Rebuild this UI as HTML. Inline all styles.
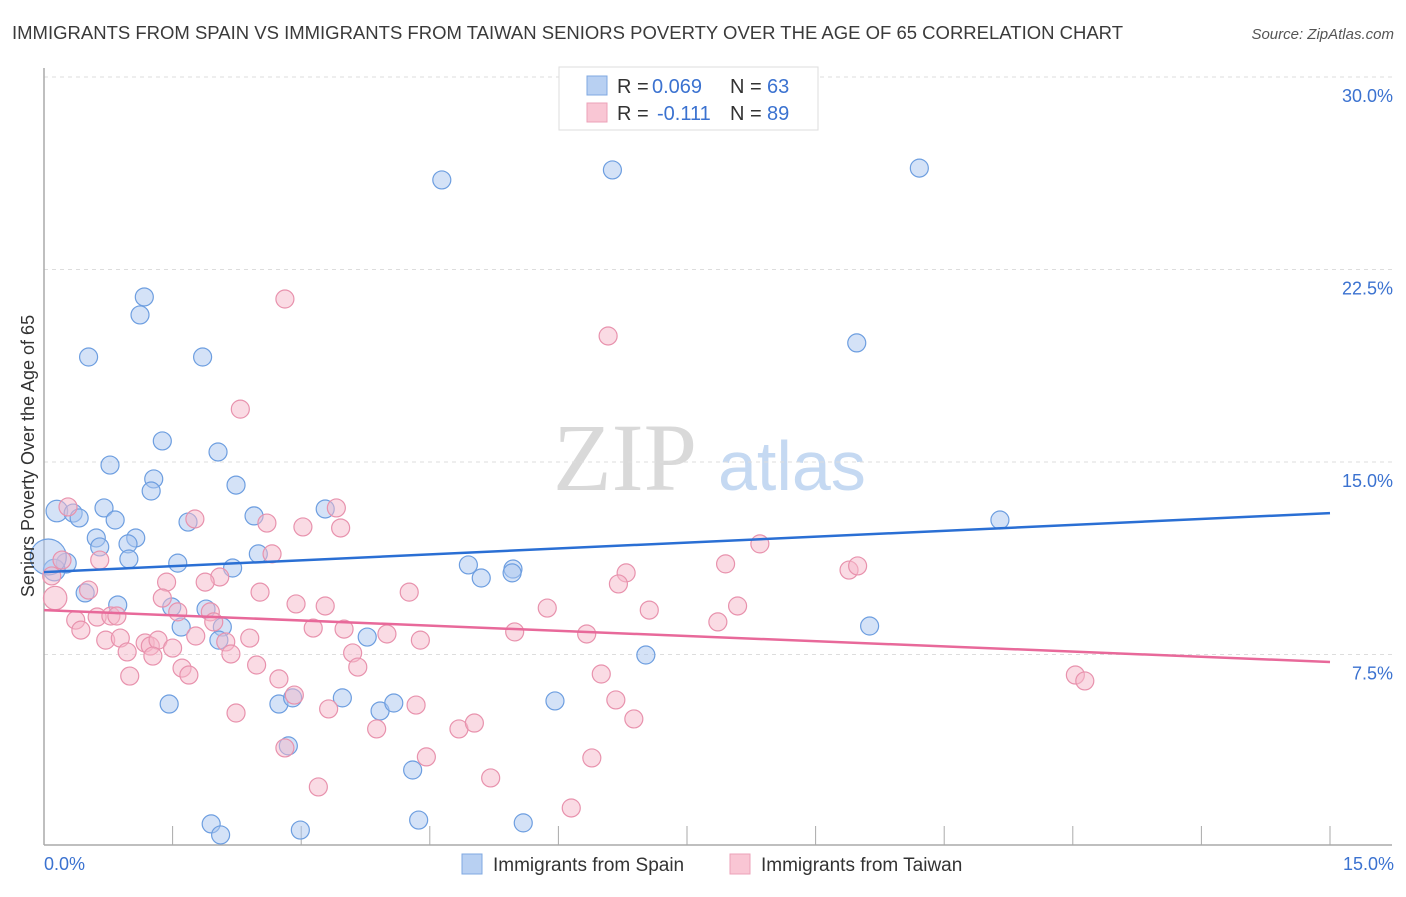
<!DOCTYPE html>
<html><head><meta charset="utf-8"><style>
body{margin:0;background:#fff;font-family:"Liberation Sans",sans-serif;}
svg text{font-family:"Liberation Sans",sans-serif;}
</style></head><body>
<svg id="chart" width="1406" height="892" xmlns="http://www.w3.org/2000/svg">
<text x="12" y="39" font-size="18" fill="#3a3a3a" textLength="1111" lengthAdjust="spacingAndGlyphs">IMMIGRANTS FROM SPAIN VS IMMIGRANTS FROM TAIWAN SENIORS POVERTY OVER THE AGE OF 65 CORRELATION CHART</text>
<text x="1394" y="39" font-size="15" fill="#555" text-anchor="end" font-style="italic">Source: ZipAtlas.com</text>
<g>
<text x="553" y="490" font-size="96" fill="#d9d9d9" font-family="Liberation Serif" style="font-family:'Liberation Serif',serif">ZIP</text>
<text x="718" y="490" font-size="70" fill="#c5d9f2">atlas</text>
</g>
<g id="grid"></g>
<g id="axes"></g>
<g id="pts"></g>
<g id="trend"></g>
<text transform="translate(34,456) rotate(-90)" font-size="18" fill="#333" text-anchor="middle">Seniors Poverty Over the Age of 65</text>
<g>
<rect x="559" y="67" width="259" height="63" fill="#fff" stroke="#ddd"/>
<rect x="587" y="76" width="20" height="19" fill="#b8d0f2" stroke="#7fa8e2"/>
<rect x="587" y="103" width="20" height="19" fill="#f9c6d4" stroke="#eca2b8"/>
<text x="617" y="93" font-size="20" fill="#333">R =</text>
<text x="652" y="93" font-size="20" fill="#3b72d0">0.069</text>
<text x="730" y="93" font-size="20" fill="#333">N =</text>
<text x="767" y="93" font-size="20" fill="#3b72d0">63</text>
<text x="617" y="120" font-size="20" fill="#333">R =</text>
<text x="657" y="120" font-size="20" fill="#3b72d0">-0.111</text>
<text x="730" y="120" font-size="20" fill="#333">N =</text>
<text x="767" y="120" font-size="20" fill="#3b72d0">89</text>
</g>
<g>
<rect x="462" y="854" width="20" height="20" fill="#b8d0f2" stroke="#7fa8e2"/>
<text x="493" y="871" font-size="19" fill="#333">Immigrants from Spain</text>
<rect x="730" y="854" width="20" height="20" fill="#f9c6d4" stroke="#eca2b8"/>
<text x="761" y="871" font-size="19" fill="#333">Immigrants from Taiwan</text>
</g>
</svg>
<script>
const yTicks=[7.5,15,22.5,30];
const yTickLabels=["7.5%","15.0%","22.5%","30.0%"];
const xTickLabels=["0.0%","15.0%"];
const spainX=[4.64,6.63,10.21,1.17,1.12,0.52,1.85,9.48,1.38,2.03,0.77,1.28,1.25,2.24,0.70,0.15,0.34,0.41,0.83,2.45,3.28,1.68,11.15,0.61,1.07,0.65,0.98,1.56,0.99,2.20,2.50,4.95,5.47,5.46,5.10,0.26,0.12,0.48,0.86,1.49,1.89,1.60,2.08,2.04,3.77,9.63,7.02,1.46,2.74,2.90,3.48,3.92,4.08,5.96,2.85,4.30,1.95,2.06,2.99,4.37,5.59,0.05];
const spainY=[25.99,26.38,26.45,21.43,20.73,19.09,19.09,19.64,15.82,15.39,14.88,14.34,13.87,14.10,13.21,13.09,13.01,12.82,12.74,12.90,13.17,12.66,12.74,12.04,12.04,11.69,11.81,11.06,11.22,10.87,11.42,10.99,10.83,10.68,10.48,11.06,10.79,9.90,9.43,9.35,9.27,8.57,8.57,8.06,8.18,8.61,7.48,5.57,5.57,5.81,5.81,5.30,5.61,5.69,3.94,3.00,0.90,0.47,0.66,1.05,0.94,11.30];
const spainSize=[1,1,1,1,1,1,1,1,1,1,1,1,1,1,1,1.2,1,1,1,1,1,1,1,1,1,1,1,1,1,1,1,1,1,1,1,1.1,1.2,1,1,1,1,1,1,1,1,1,1,1,1,1,1,1,1,1,1,1,1,1,1,1,1,2.0];
const taiwanX=[2.81,6.58,2.29,0.28,1.76,2.60,3.02,3.41,3.46,8.35,2.66,0.21,0.65,7.95,9.39,9.49,6.79,0.09,0.13,0.52,1.43,2.05,1.88,2.52,4.26,6.70,0.37,0.43,0.62,0.78,0.85,1.38,1.56,1.94,1.98,2.94,3.28,5.87,7.06,8.09,0.72,0.89,1.18,1.24,1.33,1.50,1.27,0.97,1.77,2.12,2.40,3.14,3.50,4.00,4.39,5.49,6.33,7.86,2.18,2.48,1.61,1.69,3.60,3.66,1.00,2.74,2.92,6.50,12.03,12.14,3.32,4.34,6.67,2.24,3.88,4.84,5.02,6.88,2.81,4.46,6.39,5.21,3.20,6.15];
const taiwanY=[21.35,19.91,17.06,13.25,12.78,12.62,12.47,13.21,12.43,11.81,11.42,11.18,11.18,11.03,10.79,10.95,10.68,10.56,9.70,10.01,10.32,10.52,10.32,9.93,9.93,10.25,8.84,8.45,8.96,9.00,9.00,9.70,9.16,9.16,8.77,9.47,9.39,9.31,9.23,9.39,8.06,8.14,7.95,7.83,8.06,7.75,7.44,7.60,8.22,7.99,8.14,8.53,8.49,8.30,8.06,8.38,8.30,8.77,7.52,7.09,6.97,6.70,7.56,7.01,6.66,6.55,5.92,6.74,6.70,6.47,5.38,5.53,5.73,5.22,4.60,4.60,4.83,4.99,3.86,3.51,3.47,2.69,2.34,1.52];
const taiwanSize=[1,1,1,1,1,1,1,1,1,1,1,1,1,1,1,1,1,1,1.3,1,1,1,1,1,1,1,1,1,1,1,1,1,1,1,1,1,1,1,1,1,1,1,1,1,1,1,1,1,1,1,1,1,1,1,1,1,1,1,1,1,1,1,1,1,1,1,1,1,1,1,1,1,1,1,1,1,1,1,1,1,1,1,1,1];
const spainTrend=[10.71,13.01];
const taiwanTrend=[9.23,7.21];
const NS="http://www.w3.org/2000/svg";
const X0=44,X1=1330,XMAX=15,YBASE=847,YPX=192.5/7.5;
function sx(v){return X0+(X1-X0)*v/XMAX;}
function sy(v){return YBASE-v*YPX;}
function mk(tag,attrs,parent){const e=document.createElementNS(NS,tag);for(const k in attrs)e.setAttribute(k,attrs[k]);document.getElementById(parent).appendChild(e);return e;}
yTicks.forEach((t,i)=>{
 const l=mk('line',{x1:44,x2:1392,y1:sy(t),y2:sy(t),stroke:'#ddd','stroke-dasharray':'4,4'},'grid');
 
 
 const tx=mk('text',{x:1393,y:sy(t)+25,'font-size':18,fill:'#3b72d0','text-anchor':'end'},'grid');
 tx.textContent=yTickLabels[i];
 
 
});
let a=mk('line',{x1:44,x2:44,y1:68,y2:845,stroke:'#aaa','stroke-width':1.5},'axes');


a=mk('line',{x1:44,x2:1392,y1:845,y2:845,stroke:'#aaa','stroke-width':1.5},'axes');


for(let i=1;i<=10;i++){const v=i*1.5;const t=mk('line',{x1:sx(v),x2:sx(v),y1:826,y2:845,stroke:'#aaa'},'axes');
 
 }
[[0,'start',44],[15,'end',1394]].forEach((d,i)=>{const t=mk('text',{x:d[2],y:870,'font-size':18,fill:'#3b72d0','text-anchor':d[1]},'axes');t.textContent=xTickLabels[i];
 
 });
function pts(xs,ys,ss,fill,stroke,name){xs.forEach((x,i)=>{const c=mk('circle',{cx:sx(x),cy:sy(ys[i]),r:9*ss[i],fill:fill,'fill-opacity':0.5,stroke:stroke,'stroke-width':1.2},'pts');
 
 });}
pts(spainX,spainY,spainSize,'#a9c6ef','#6d9ee0','spain-point');
pts(taiwanX,taiwanY,taiwanSize,'#f6b7ca','#e892ad','taiwan-point');
let tl=mk('line',{x1:sx(0),y1:sy(spainTrend[0]),x2:sx(15),y2:sy(spainTrend[1]),stroke:'#2a6fd4','stroke-width':2.5},'trend');


tl=mk('line',{x1:sx(0),y1:sy(taiwanTrend[0]),x2:sx(15),y2:sy(taiwanTrend[1]),stroke:'#e8699a','stroke-width':2.5},'trend');


</script>
</body></html>
